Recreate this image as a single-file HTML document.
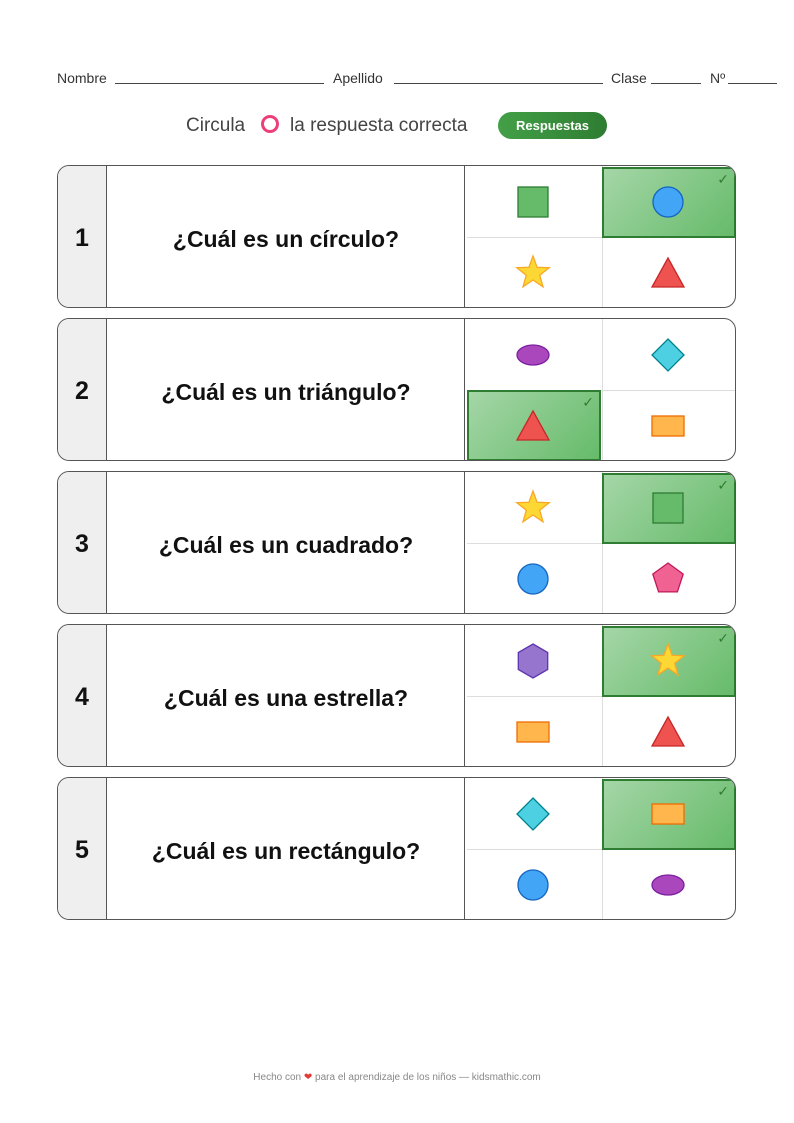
<!DOCTYPE html>
<html><head><meta charset="utf-8"><style>
body{margin:0;width:794px;height:1123px;background:#fff;position:relative;font-family:"Liberation Sans","DejaVu Sans",sans-serif;overflow:hidden}
.hdr{position:absolute;top:70px;font-size:14px;color:#333}
.ln{position:absolute;top:83px;height:1px;background:#444}
.card{position:absolute;left:57px;width:677px;height:141px;border:1.5px solid #555;border-radius:12px;overflow:hidden;background:#fff}
.num{position:absolute;left:0;top:0;width:49px;height:100%;background:#efefef;border-right:1.5px solid #555;font-weight:bold;font-size:25px;display:flex;align-items:center;justify-content:center;color:#111;padding-top:4px;box-sizing:border-box}
.q{position:absolute;left:50px;top:0;width:357px;height:100%;display:flex;align-items:center;justify-content:center;font-weight:bold;font-size:23px;color:#111;border-right:1.5px solid #555;padding-top:6px;box-sizing:border-box}
.grid{position:absolute;left:409px;top:0;right:0;bottom:0}
.vl{position:absolute;left:135px;top:0;bottom:0;width:1px;background:#ddd}
.hl{position:absolute;left:0;right:0;top:71px;height:1px;background:#ddd}
.hi{position:absolute;width:130px;height:67px;border:2px solid #2e7d32;background:linear-gradient(135deg,#a5d6a7,#66bb6a)}
.hi span{position:absolute;right:5px;top:2px;color:#2e7d32;font-size:14px}
</style></head><body>
<div class="hdr" style="left:57px">Nombre</div><div class="ln" style="left:115px;width:209px"></div>
<div class="hdr" style="left:333px">Apellido</div><div class="ln" style="left:394px;width:209px"></div>
<div class="hdr" style="left:611px">Clase</div><div class="ln" style="left:651px;width:50px"></div>
<div class="hdr" style="left:710px">Nº</div><div class="ln" style="left:728px;width:49px"></div>
<div style="position:absolute;top:115px;left:186px;font-size:19px;color:#444">Circula</div>
<div style="position:absolute;top:115px;left:261px;width:12px;height:12px;border:3.5px solid #ec407a;border-radius:50%"></div>
<div style="position:absolute;top:115px;left:290px;font-size:19px;color:#444">la respuesta correcta</div>
<div style="position:absolute;top:112px;left:498px;width:109px;height:27px;border-radius:14px;background:linear-gradient(90deg,#43a047,#2e7d32);color:#fff;font-weight:bold;font-size:13px;display:flex;align-items:center;justify-content:center">Respuestas</div>

<div class="card" style="top:165px"><div class="num">1</div><div class="q">¿Cuál es un círculo?</div><div class="grid"><div class="vl"></div><div class="hl"></div><div class="hi" style="left:135px;top:1px"><span>✓</span></div></div></div>
<div class="card" style="top:318px"><div class="num">2</div><div class="q">¿Cuál es un triángulo?</div><div class="grid"><div class="vl"></div><div class="hl"></div><div class="hi" style="left:0;top:71px"><span>✓</span></div></div></div>
<div class="card" style="top:471px"><div class="num">3</div><div class="q">¿Cuál es un cuadrado?</div><div class="grid"><div class="vl"></div><div class="hl"></div><div class="hi" style="left:135px;top:1px"><span>✓</span></div></div></div>
<div class="card" style="top:624px"><div class="num">4</div><div class="q">¿Cuál es una estrella?</div><div class="grid"><div class="vl"></div><div class="hl"></div><div class="hi" style="left:135px;top:1px"><span>✓</span></div></div></div>
<div class="card" style="top:777px"><div class="num">5</div><div class="q">¿Cuál es un rectángulo?</div><div class="grid"><div class="vl"></div><div class="hl"></div><div class="hi" style="left:135px;top:1px"><span>✓</span></div></div></div>

<svg width="794" height="1123" style="position:absolute;left:0;top:0" stroke-width="1.3">
<defs>
<rect id="sq" x="-15" y="-15" width="30" height="30" fill="#66bb6a" stroke="#2e7d32"/>
<circle id="ci" r="15" fill="#42a5f5" stroke="#1565c0"/>
<polygon id="st" points="0,-17 4.1,-5.7 16.2,-5.3 6.7,2.2 10,13.8 0,7 -10,13.8 -6.7,2.2 -16.2,-5.3 -4.1,-5.7" fill="#fdd835" stroke="#f9a825"/>
<polygon id="tr" points="0,-15 16,14 -16,14" fill="#ef5350" stroke="#c62828"/>
<ellipse id="el" rx="16" ry="10" fill="#ab47bc" stroke="#7b1fa2"/>
<polygon id="di" points="0,-16 16,0 0,16 -16,0" fill="#4dd0e1" stroke="#00838f"/>
<rect id="re" x="-16" y="-10" width="32" height="20" fill="#ffb74d" stroke="#ef6c00"/>
<polygon id="pe" points="0,-16 15.2,-4.9 9.4,12.9 -9.4,12.9 -15.2,-4.9" fill="#f06292" stroke="#c2185b"/>
<polygon id="hx" points="0,-17 14.7,-8.5 14.7,8.5 0,17 -14.7,8.5 -14.7,-8.5" fill="#9575cd" stroke="#5e35b1"/>
</defs>
<use href="#sq" x="533" y="202"/><use href="#ci" x="668" y="202"/><use href="#st" x="533" y="273"/><use href="#tr" x="668" y="273"/>
<use href="#el" x="533" y="355"/><use href="#di" x="668" y="355"/><use href="#tr" x="533" y="426"/><use href="#re" x="668" y="426"/>
<use href="#st" x="533" y="508"/><use href="#sq" x="668" y="508"/><use href="#ci" x="533" y="579"/><use href="#pe" x="668" y="579"/>
<use href="#hx" x="533" y="661"/><use href="#st" x="668" y="661"/><use href="#re" x="533" y="732"/><use href="#tr" x="668" y="732"/>
<use href="#di" x="533" y="814"/><use href="#re" x="668" y="814"/><use href="#ci" x="533" y="885"/><use href="#el" x="668" y="885"/>
</svg>
<div style="position:absolute;top:1072px;left:0;width:794px;text-align:center;font-size:10px;color:#888">Hecho con <span style="color:#e53935">❤</span> para el aprendizaje de los niños — kidsmathic.com</div>
</body></html>
